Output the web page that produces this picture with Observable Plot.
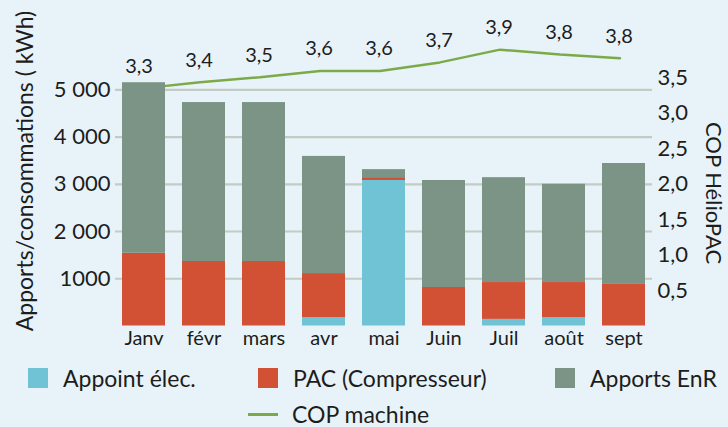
<!DOCTYPE html>
<html><head><meta charset="utf-8">
<script src="https://cdn.jsdelivr.net/npm/d3@7"></script>
<script src="https://cdn.jsdelivr.net/npm/@observablehq/plot@0.6"></script>
<style>
html,body{margin:0;padding:0;background:#e8f3f9;}
#wrap{position:relative;width:728px;height:427px;overflow:hidden;font-family:Lato,"Open Sans",sans-serif;color:#1d1d1b;}
#chart svg{display:block;}
.title{position:absolute;white-space:nowrap;font-size:23px;line-height:1;}
.leg{position:absolute;font-size:23px;line-height:1;white-space:nowrap;display:flex;align-items:center;}
.sw{display:inline-block;width:20px;height:20px;margin-right:15px;}
.ln{display:inline-block;width:30px;height:3px;margin-right:14px;}
</style></head><body>
<div id="wrap"><div id="chart"></div></div>
<script>
const months = ["Janv","févr","mars","avr","mai","Juin","Juil","août","sept"];
const appointElec = [0,0,0,180,3080,0,140,180,0];
const pacCompresseur = [1540,1365,1365,930,60,815,780,740,880];
const apportsEnR = [3610,3365,3365,2480,170,2265,2220,2080,2560];
const copMachine = [3.35,3.44,3.51,3.6,3.6,3.72,3.9,3.83,3.78];
const copLabels = ["3,3","3,4","3,5","3,6","3,6","3,7","3,9","3,8","3,8"];
const seriesNames = ["Appoint élec.","PAC (Compresseur)","Apports EnR"];
const seriesColors = ["#70c3d5","#d25034","#7c9486"];
const lineName = "COP machine";
const lineColor = "#7daa49";
const yTicks = [1000,2000,3000,4000,5000];
const yTickLabels = ["1000","2 000","3 000","4 000","5 000"];
const copTicks = [0.5,1,1.5,2,2.5,3,3.5];
const copTickLabels = ["0,5","1,0","1,5","2,0","2,5","3,0","3,5"];
const yTitle = "Apports/consommations ( kWh)";
const y2Title = "COP HélioPAC";
const copToKwh = 1500;

const seriesValues = [appointElec, pacCompresseur, apportsEnR];
const rows = months.flatMap((m,i)=>seriesNames.map((s,k)=>({month:m, series:s, value:seriesValues[k][i]})));
const cop = months.map((m,i)=>({month:m, v:copMachine[i]*copToKwh, label:copLabels[i]}));
const yFmt = new Map(yTicks.map((t,i)=>[t,yTickLabels[i]]));
const y2Fmt = new Map(copTicks.map((t,i)=>[t*copToKwh,copTickLabels[i]]));

const chart = Plot.plot({
  width:728, height:352,
  marginLeft:115, marginRight:76, marginTop:0, marginBottom:26,
  x:{domain:months, paddingInner:0.29, paddingOuter:0.083},
  y:{domain:[0,5000], range:[325.5,89.3]},
  color:{domain:seriesNames, range:seriesColors},
  style:{background:"transparent", fontFamily:"Lato, 'Open Sans', sans-serif", fontSize:"21px", color:"#1d1d1b"},
  marks:[
    Plot.ruleY(yTicks,{stroke:"#c2cbc4", strokeWidth:2.2}),
    Plot.lineY(cop,{x:"month", y:"v", stroke:lineColor, strokeWidth:2.5, dx:-4}),
    Plot.barY(rows,{x:"month", y:"value", fill:"series"}),
    Plot.text(cop,{x:"month", y:"v", text:"label", dy:-22, dx:-5, fontSize:20, fill:"#1d1d1b"}),
    Plot.axisX({tickSize:0, tickPadding:4, fontSize:20, label:null}),
    Plot.axisY({ticks:yTicks, tickFormat:d=>yFmt.get(d), tickSize:0, tickPadding:5, fontSize:22, label:null}),
    Plot.axisY({anchor:"right", ticks:copTicks.map(t=>t*copToKwh), tickFormat:d=>y2Fmt.get(d), tickSize:0, tickPadding:5, fontSize:22, label:null})
  ]
});
const wrap = document.getElementById("wrap");
document.getElementById("chart").appendChild(chart);

function addTitle(text, cx, cy, rot, size){
  const d = document.createElement("div");
  d.className = "title"; d.textContent = text;
  d.style.fontSize = size+"px";
  d.style.left = cx+"px"; d.style.top = cy+"px";
  d.style.transform = `translate(-50%,-50%) rotate(${rot}deg)`;
  wrap.appendChild(d);
}
addTitle(yTitle, 24, 171, -90, 23);
addTitle(y2Title, 714, 193, 90, 22);

function addLeg(left, cy, color, text, isLine){
  const d = document.createElement("div");
  d.className = "leg"; d.style.left = left+"px"; d.style.top = (cy-11)+"px"; d.style.height="22px";
  const s = document.createElement("span");
  s.className = isLine ? "ln" : "sw"; s.style.background = color;
  d.appendChild(s);
  const t = document.createElement("span"); t.textContent = text;
  d.appendChild(t);
  wrap.appendChild(d);
}
const legPos = [[28,378],[258,378],[555,378]];
seriesNames.forEach((s,i)=>addLeg(legPos[i][0], legPos[i][1], seriesColors[i], s, false));
addLeg(248, 414, lineColor, lineName, true);
</script>
</body></html>
